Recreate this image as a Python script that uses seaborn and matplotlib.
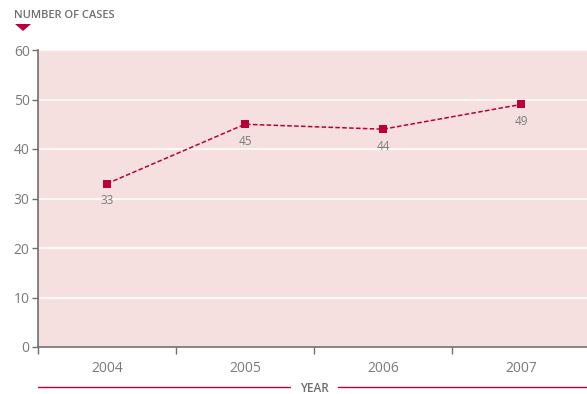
import matplotlib
matplotlib.use("Agg")
import matplotlib.pyplot as plt
from matplotlib.patches import Polygon
import seaborn as sns
import pandas as pd

years = ["2004", "2005", "2006", "2007"]
cases = [33, 45, 44, 49]
y_ticks = [0, 10, 20, 30, 40, 50, 60]

sns.set_theme(style="white")
plt.rcParams["font.family"] = ["Open Sans", "DejaVu Sans"]

crimson = "#b8003a"
grey_text = "#7a7a7a"
panel = "#f5e0df"

df = pd.DataFrame({"year": years, "cases": cases})
df["pos"] = range(len(df))

W, H = 587, 394
fig = plt.figure(figsize=(W / 100, H / 100), dpi=100)
left, right, top, bottom = 38, 590, 50, 347
ax = fig.add_axes([left / W, 1 - bottom / H, (right - left) / W, (bottom - top) / H])
ax.set_facecolor(panel)

sns.lineplot(data=df, x="pos", y="cases", ax=ax, color=crimson, linewidth=1.1,
             linestyle=(0, (3, 1.5)), marker="s", markersize=6,
             markeredgewidth=0, markerfacecolor=crimson)

for p, v in zip(df["pos"], df["cases"]):
    ax.annotate(str(v), (p, v), xytext=(0, -7.5), textcoords="offset points",
                ha="center", va="top", fontsize=8.5, color=grey_text)

ax.set_xlim(-0.5, 3.5)
ax.set_ylim(0, 60)
ax.set_yticks(y_ticks)
ax.set_yticklabels([str(t) for t in y_ticks])
ax.set_xticks([-0.5, 0.5, 1.5, 2.5])
ax.set_xticklabels([])
ax.set_xticks(range(len(years)), minor=True)
ax.set_xticklabels(years, minor=True)
ax.tick_params(axis="x", which="major", length=5, width=1, color="#707070", direction="out", bottom=True)
ax.tick_params(axis="x", which="minor", length=0, pad=10, labelsize=10, labelcolor=grey_text)
ax.tick_params(axis="y", length=4, width=1, color="#707070", left=True, labelsize=10,
               labelcolor=grey_text, pad=2)
ax.grid(axis="y", color="white", linewidth=1.2)
ax.set_axisbelow(True)
for s in ["top", "right"]:
    ax.spines[s].set_visible(False)
for s in ["left", "bottom"]:
    ax.spines[s].set_color("#707070")
    ax.spines[s].set_linewidth(1.2)
ax.set_xlabel("")
ax.set_ylabel("")

# Axis title at top-left with a small downward triangle
fig.text(14 / W, 1 - 15 / H, "NUMBER OF CASES", fontsize=8, color="#6e6e6e",
         ha="left", va="center", fontweight="semibold", fontstretch="condensed")
tri = [(15 / W, 1 - 24 / H), (31 / W, 1 - 24 / H), (23 / W, 1 - 31 / H)]
fig.patches.append(Polygon(tri, closed=True, facecolor=crimson, edgecolor="none",
                           transform=fig.transFigure))

# Year label flanked by rules
fig.text(314 / W, 1 - 388 / H, "YEAR", fontsize=8.5, color="#6e6e6e",
         ha="center", va="center", fontweight="semibold")
fig.lines.append(plt.Line2D([38 / W, 290 / W], [1 - 387 / H] * 2, color=crimson,
                            linewidth=1, transform=fig.transFigure))
fig.lines.append(plt.Line2D([338 / W, 1.0], [1 - 387 / H] * 2, color=crimson,
                            linewidth=1, transform=fig.transFigure))

fig.savefig("out.png", dpi=100)
